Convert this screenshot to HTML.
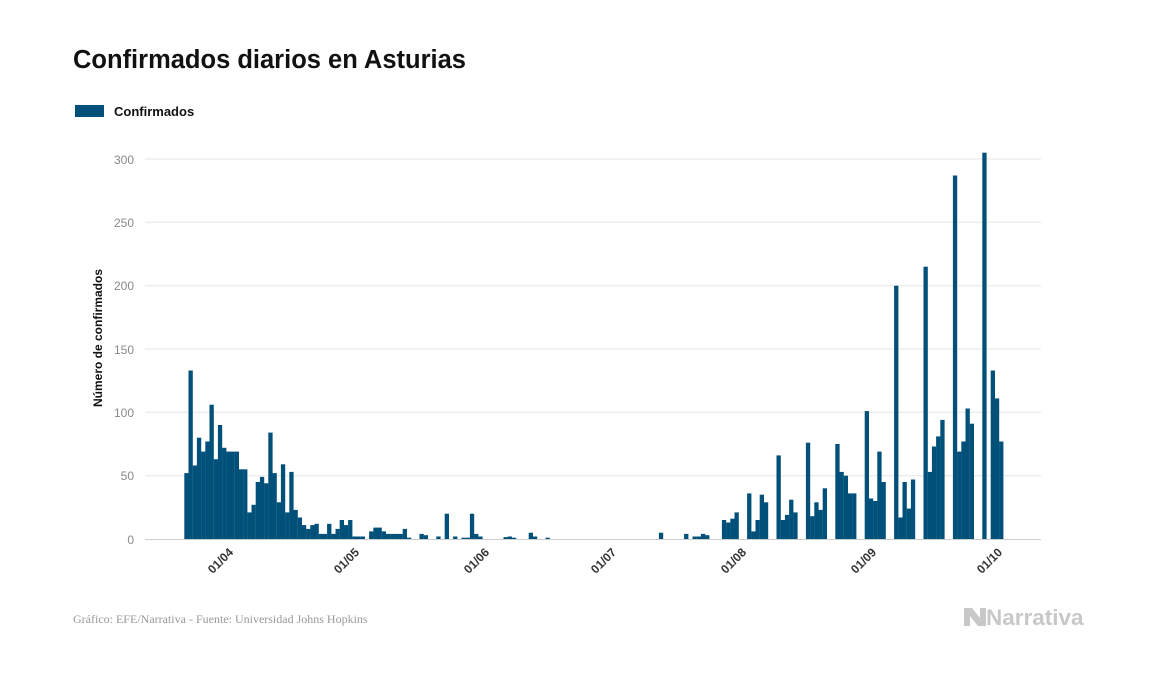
<!DOCTYPE html>
<html><head><meta charset="utf-8"><style>
html,body{margin:0;padding:0;background:#fff;}
svg{display:block;font-family:"Liberation Sans",sans-serif;}
</style></head><body>
<svg width="1157" height="674" viewBox="0 0 1157 674" xmlns="http://www.w3.org/2000/svg">
<text x="73" y="68" font-size="25.5" font-weight="bold" fill="#111">Confirmados diarios en Asturias</text>
<rect x="75" y="105" width="29" height="12" fill="#00507a"/>
<text x="114" y="116" font-size="13" font-weight="bold" fill="#111">Confirmados</text>
<g stroke="#e6e6e6" stroke-width="1">
<line x1="145" x2="1041" y1="475.7" y2="475.7"/>
<line x1="145" x2="1041" y1="412.3" y2="412.3"/>
<line x1="145" x2="1041" y1="349" y2="349"/>
<line x1="145" x2="1041" y1="285.7" y2="285.7"/>
<line x1="145" x2="1041" y1="222.3" y2="222.3"/>
<line x1="145" x2="1041" y1="159" y2="159"/>
</g>
<line x1="145" x2="1041" y1="539.5" y2="539.5" stroke="#ccc"/>
<g font-size="12" fill="#888" text-anchor="end">
<text x="134" y="544">0</text>
<text x="134" y="480">50</text>
<text x="134" y="417">100</text>
<text x="134" y="354">150</text>
<text x="134" y="290">200</text>
<text x="134" y="227">250</text>
<text x="134" y="164">300</text>
</g>
<text transform="translate(102,338) rotate(-90)" font-size="12" font-weight="bold" text-anchor="middle" fill="#111">Número de confirmados</text>
<g fill="#00507a">
<rect x="184.3" y="473.1" width="4.3" height="65.9"/>
<rect x="188.5" y="370.5" width="4.3" height="168.5"/>
<rect x="192.7" y="465.5" width="4.3" height="73.5"/>
<rect x="196.9" y="437.7" width="4.3" height="101.3"/>
<rect x="201.1" y="451.6" width="4.3" height="87.4"/>
<rect x="205.3" y="441.5" width="4.3" height="97.5"/>
<rect x="209.5" y="404.7" width="4.3" height="134.3"/>
<rect x="213.7" y="459.2" width="4.3" height="79.8"/>
<rect x="217.9" y="425.0" width="4.3" height="114"/>
<rect x="222.1" y="447.8" width="4.3" height="91.2"/>
<rect x="226.3" y="451.6" width="4.3" height="87.4"/>
<rect x="230.5" y="451.6" width="4.3" height="87.4"/>
<rect x="234.7" y="451.6" width="4.3" height="87.4"/>
<rect x="238.9" y="469.3" width="4.3" height="69.7"/>
<rect x="243.1" y="469.3" width="4.3" height="69.7"/>
<rect x="247.3" y="512.4" width="4.3" height="26.6"/>
<rect x="251.5" y="504.8" width="4.3" height="34.2"/>
<rect x="255.7" y="482.0" width="4.3" height="57"/>
<rect x="259.9" y="476.9" width="4.3" height="62.1"/>
<rect x="264.1" y="483.3" width="4.3" height="55.7"/>
<rect x="268.3" y="432.6" width="4.3" height="106.4"/>
<rect x="272.5" y="473.1" width="4.3" height="65.9"/>
<rect x="276.7" y="502.3" width="4.3" height="36.7"/>
<rect x="280.9" y="464.3" width="4.3" height="74.7"/>
<rect x="285.1" y="512.4" width="4.3" height="26.6"/>
<rect x="289.3" y="471.9" width="4.3" height="67.1"/>
<rect x="293.5" y="509.9" width="4.3" height="29.1"/>
<rect x="297.7" y="517.5" width="4.3" height="21.5"/>
<rect x="301.9" y="525.1" width="4.3" height="13.9"/>
<rect x="306.1" y="528.9" width="4.3" height="10.1"/>
<rect x="310.3" y="525.1" width="4.3" height="13.9"/>
<rect x="314.5" y="523.8" width="4.3" height="15.2"/>
<rect x="318.7" y="533.9" width="4.3" height="5.1"/>
<rect x="322.9" y="533.9" width="4.3" height="5.1"/>
<rect x="327.1" y="523.8" width="4.3" height="15.2"/>
<rect x="331.3" y="533.9" width="4.3" height="5.1"/>
<rect x="335.5" y="528.9" width="4.3" height="10.1"/>
<rect x="339.7" y="520.0" width="4.3" height="19"/>
<rect x="343.9" y="525.1" width="4.3" height="13.9"/>
<rect x="348.1" y="520.0" width="4.3" height="19"/>
<rect x="352.3" y="536.5" width="4.3" height="2.5"/>
<rect x="356.5" y="536.5" width="4.3" height="2.5"/>
<rect x="360.7" y="536.5" width="4.3" height="2.5"/>
<rect x="369.1" y="531.4" width="4.3" height="7.6"/>
<rect x="373.3" y="527.6" width="4.3" height="11.4"/>
<rect x="377.5" y="527.6" width="4.3" height="11.4"/>
<rect x="381.7" y="531.4" width="4.3" height="7.6"/>
<rect x="385.9" y="533.9" width="4.3" height="5.1"/>
<rect x="390.1" y="533.9" width="4.3" height="5.1"/>
<rect x="394.3" y="533.9" width="4.3" height="5.1"/>
<rect x="398.5" y="533.9" width="4.3" height="5.1"/>
<rect x="402.7" y="528.9" width="4.3" height="10.1"/>
<rect x="406.9" y="537.7" width="4.3" height="1.3"/>
<rect x="419.5" y="533.9" width="4.3" height="5.1"/>
<rect x="423.7" y="535.2" width="4.3" height="3.8"/>
<rect x="436.3" y="536.5" width="4.3" height="2.5"/>
<rect x="444.7" y="513.7" width="4.3" height="25.3"/>
<rect x="453.1" y="536.5" width="4.3" height="2.5"/>
<rect x="461.5" y="537.7" width="4.3" height="1.3"/>
<rect x="465.7" y="537.7" width="4.3" height="1.3"/>
<rect x="469.9" y="513.7" width="4.3" height="25.3"/>
<rect x="474.1" y="533.9" width="4.3" height="5.1"/>
<rect x="478.3" y="536.5" width="4.3" height="2.5"/>
<rect x="503.5" y="537.1" width="4.3" height="1.9"/>
<rect x="507.7" y="536.5" width="4.3" height="2.5"/>
<rect x="511.9" y="537.7" width="4.3" height="1.3"/>
<rect x="528.7" y="532.7" width="4.3" height="6.3"/>
<rect x="532.9" y="536.5" width="4.3" height="2.5"/>
<rect x="545.5" y="537.7" width="4.3" height="1.3"/>
<rect x="658.9" y="532.7" width="4.3" height="6.3"/>
<rect x="684.1" y="533.9" width="4.3" height="5.1"/>
<rect x="692.5" y="536.5" width="4.3" height="2.5"/>
<rect x="696.7" y="536.5" width="4.3" height="2.5"/>
<rect x="700.9" y="533.9" width="4.3" height="5.1"/>
<rect x="705.1" y="535.2" width="4.3" height="3.8"/>
<rect x="721.9" y="520.0" width="4.3" height="19"/>
<rect x="726.1" y="522.5" width="4.3" height="16.5"/>
<rect x="730.3" y="518.7" width="4.3" height="20.3"/>
<rect x="734.5" y="512.4" width="4.3" height="26.6"/>
<rect x="747.1" y="493.4" width="4.3" height="45.6"/>
<rect x="751.3" y="531.4" width="4.3" height="7.6"/>
<rect x="755.5" y="520.0" width="4.3" height="19"/>
<rect x="759.7" y="494.7" width="4.3" height="44.3"/>
<rect x="763.9" y="502.3" width="4.3" height="36.7"/>
<rect x="776.5" y="455.4" width="4.3" height="83.6"/>
<rect x="780.7" y="520.0" width="4.3" height="19"/>
<rect x="784.9" y="514.9" width="4.3" height="24.1"/>
<rect x="789.1" y="499.7" width="4.3" height="39.3"/>
<rect x="793.3" y="512.4" width="4.3" height="26.6"/>
<rect x="805.9" y="442.7" width="4.3" height="96.3"/>
<rect x="810.1" y="516.2" width="4.3" height="22.8"/>
<rect x="814.3" y="502.3" width="4.3" height="36.7"/>
<rect x="818.5" y="509.9" width="4.3" height="29.1"/>
<rect x="822.7" y="488.3" width="4.3" height="50.7"/>
<rect x="835.3" y="444.0" width="4.3" height="95"/>
<rect x="839.5" y="471.9" width="4.3" height="67.1"/>
<rect x="843.7" y="475.7" width="4.3" height="63.3"/>
<rect x="847.9" y="493.4" width="4.3" height="45.6"/>
<rect x="852.1" y="493.4" width="4.3" height="45.6"/>
<rect x="864.7" y="411.1" width="4.3" height="127.9"/>
<rect x="868.9" y="498.5" width="4.3" height="40.5"/>
<rect x="873.1" y="501.0" width="4.3" height="38"/>
<rect x="877.3" y="451.6" width="4.3" height="87.4"/>
<rect x="881.5" y="482.0" width="4.3" height="57"/>
<rect x="894.1" y="285.7" width="4.3" height="253.3"/>
<rect x="898.3" y="517.5" width="4.3" height="21.5"/>
<rect x="902.5" y="482.0" width="4.3" height="57"/>
<rect x="906.7" y="508.6" width="4.3" height="30.4"/>
<rect x="910.9" y="479.5" width="4.3" height="59.5"/>
<rect x="923.5" y="266.7" width="4.3" height="272.3"/>
<rect x="927.7" y="471.9" width="4.3" height="67.1"/>
<rect x="931.9" y="446.5" width="4.3" height="92.5"/>
<rect x="936.1" y="436.4" width="4.3" height="102.6"/>
<rect x="940.3" y="419.9" width="4.3" height="119.1"/>
<rect x="952.9" y="175.5" width="4.3" height="363.5"/>
<rect x="957.1" y="451.6" width="4.3" height="87.4"/>
<rect x="961.3" y="441.5" width="4.3" height="97.5"/>
<rect x="965.5" y="408.5" width="4.3" height="130.5"/>
<rect x="969.7" y="423.7" width="4.3" height="115.3"/>
<rect x="982.3" y="152.7" width="4.3" height="386.3"/>
<rect x="990.7" y="370.5" width="4.3" height="168.5"/>
<rect x="994.9" y="398.4" width="4.3" height="140.6"/>
<rect x="999.1" y="441.5" width="4.3" height="97.5"/>
</g>
<g font-size="12" font-weight="bold" fill="#333" text-anchor="end">
<text transform="translate(234,553) rotate(-45)">01/04</text>
<text transform="translate(360,553) rotate(-45)">01/05</text>
<text transform="translate(490,553) rotate(-45)">01/06</text>
<text transform="translate(617,553) rotate(-45)">01/07</text>
<text transform="translate(747,553) rotate(-45)">01/08</text>
<text transform="translate(877,553) rotate(-45)">01/09</text>
<text transform="translate(1003,553) rotate(-45)">01/10</text>
</g>
<text x="73" y="623" font-size="12" fill="#999" font-family="Liberation Serif,serif">Gráfico: EFE/Narrativa - Fuente: Universidad Johns Hopkins</text>
<path d="M964 608 L972 608 L980 618 L980 608 L986 608 L986 626 L978 626 L970 616 L970 626 L964 626 Z" fill="#c8c8c8"/>
<text x="986" y="625" font-size="22.5" font-weight="bold" fill="#c8c8c8">Narrativa</text>
</svg>
</body></html>
